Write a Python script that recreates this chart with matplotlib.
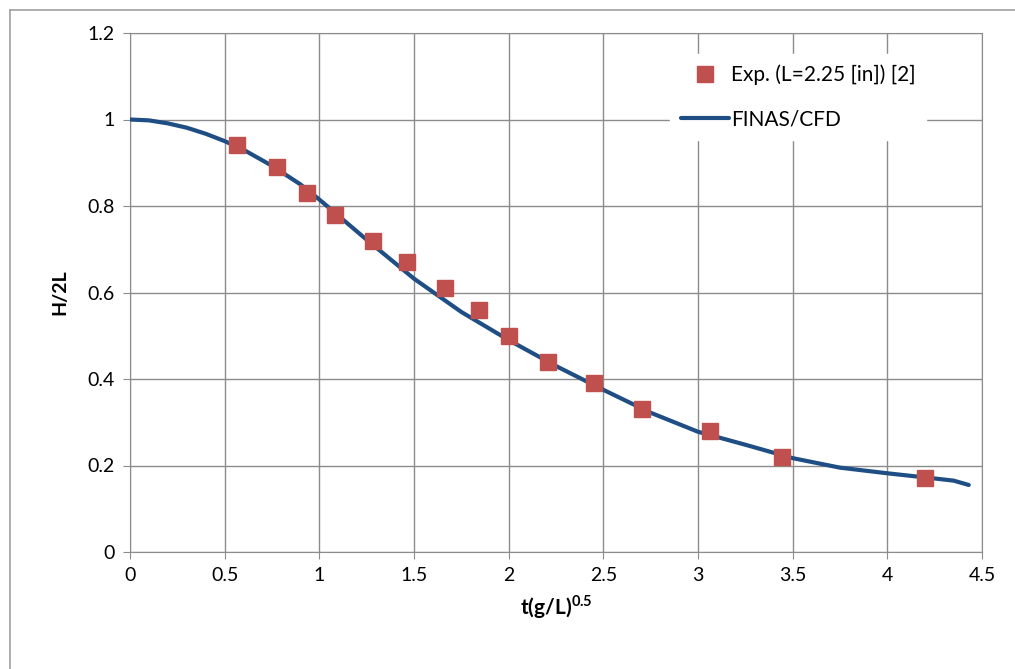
import matplotlib.pyplot as plt
import matplotlib.lines as mlines

plt.rcParams['font.family'] = ['Lato', 'DejaVu Sans']
plt.rcParams['mathtext.fontset'] = 'custom'
plt.rcParams['mathtext.bf'] = 'Lato:bold'

# experiment (L=2.25 in)
exp_t = [0.565, 0.777, 0.935, 1.083, 1.284, 1.463, 1.664, 1.844, 2.002,
         2.208, 2.451, 2.705, 3.064, 3.444, 4.20]
exp_h = [0.94, 0.89, 0.83, 0.78, 0.72, 0.67, 0.61, 0.56, 0.50,
         0.44, 0.39, 0.33, 0.28, 0.22, 0.17]

# FINAS/CFD curve
cfd_t = [0.0, 0.1, 0.2, 0.3, 0.4, 0.5, 0.6, 0.75, 0.9, 1.0,
         1.25, 1.5, 1.75, 2.0, 2.25, 2.5, 2.75, 3.0, 3.25, 3.5, 3.75, 4.0,
         4.25, 4.35, 4.43]
cfd_h = [1.0, 0.998, 0.991, 0.981, 0.967, 0.950, 0.930, 0.893, 0.85, 0.815,
         0.722, 0.632, 0.555, 0.49, 0.43, 0.375, 0.322,
         0.278, 0.248, 0.217, 0.195, 0.182, 0.170, 0.165, 0.155]

fig = plt.figure(figsize=(10.15, 6.69), dpi=100)
ax = fig.add_axes([130/1015, 1-552/669, 852/1015, 519/669])

red = '#C0504D'
blue = '#1F4E85'

ax.plot(cfd_t, cfd_h, color=blue, lw=3, solid_capstyle='round',
        solid_joinstyle='round', zorder=3)
ax.plot(exp_t, exp_h, ls='none', marker='s', ms=12, color=red, zorder=4)

ax.set_xlim(0, 4.5)
ax.set_ylim(0, 1.2)
ax.set_xticks([0, 0.5, 1, 1.5, 2, 2.5, 3, 3.5, 4, 4.5])
ax.set_xticklabels(['0', '0.5', '1', '1.5', '2', '2.5', '3', '3.5', '4', '4.5'])
ax.set_yticks([0, 0.2, 0.4, 0.6, 0.8, 1.0, 1.2])
ax.set_yticklabels(['0', '0.2', '0.4', '0.6', '0.8', '1', '1.2'])
ax.grid(True, color='#8C8C8C', lw=1)
ax.set_axisbelow(True)
for s in ax.spines.values():
    s.set_color('#8C8C8C')
ax.tick_params(direction='out', length=5, color='#8C8C8C', labelsize=14, pad=6)

ax.set_xlabel(r'$\mathbf{t(g/L)}^{\mathbf{0.5}}$', fontsize=15, labelpad=6)
ax.set_ylabel('H/2L', fontsize=14, fontweight='bold', labelpad=14)

h_exp = mlines.Line2D([], [], ls='none', marker='s', ms=12, color=red)
h_cfd = mlines.Line2D([], [], color=blue, lw=3, solid_capstyle='round')
leg = ax.legend([h_exp, h_cfd], ['Exp. (L=2.25 [in]) [2]', 'FINAS/CFD'],
                loc='upper left', bbox_to_anchor=(660/1015, 1-44/669),
                bbox_transform=fig.transFigure, fontsize=15, frameon=True,
                fancybox=False, edgecolor='white', facecolor='white',
                framealpha=1, handlelength=2.3, handletextpad=0.1,
                labelspacing=1.15, borderpad=0.5)

# outer chart border
fig.add_artist(mlines.Line2D([9.5/1015, 9.5/1015], [0, 1-10/669],
                             color='#A0A0A0', lw=1.2))
fig.add_artist(mlines.Line2D([9.5/1015, 1], [1-10/669, 1-10/669],
                             color='#A0A0A0', lw=1.2))

fig.savefig('out.png', dpi=100, facecolor='white')
